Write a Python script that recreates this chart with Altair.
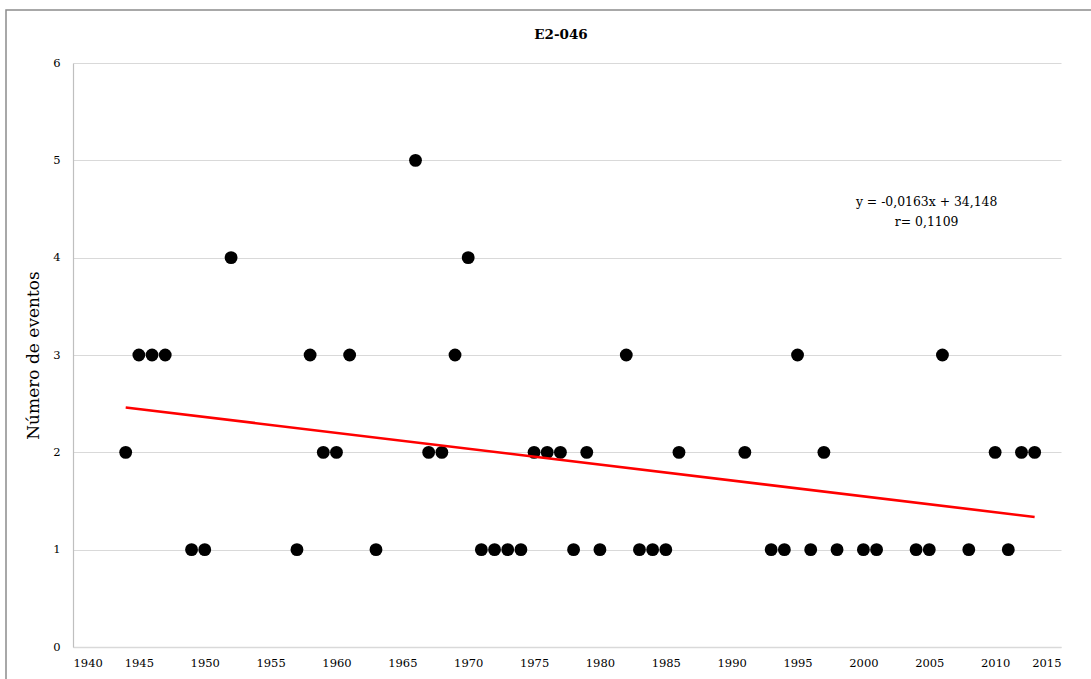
import altair as alt
import pandas as pd

# Annual number of events at station E2-046
years = [1944, 1945, 1946, 1947, 1949, 1950, 1952, 1957, 1958, 1959, 1960, 1961,
         1963, 1966, 1967, 1968, 1969, 1970, 1971, 1972, 1973, 1974, 1975, 1976,
         1977, 1978, 1979, 1980, 1982, 1983, 1984, 1985, 1986, 1991, 1993, 1994,
         1995, 1996, 1997, 1998, 2000, 2001, 2004, 2005, 2006, 2008, 2010, 2011,
         2012, 2013]
events = [2, 3, 3, 3, 1, 1, 4, 1, 3, 2, 2, 3,
          1, 5, 2, 2, 3, 4, 1, 1, 1, 1, 2, 2,
          2, 1, 2, 1, 3, 1, 1, 1, 2, 2, 1, 1,
          3, 1, 2, 1, 1, 1, 1, 1, 3, 1, 2, 1,
          2, 2]

# Linear trend: y = -0.0163x + 34.148
slope = -0.0163
intercept = 34.148
trend_years = [1944, 2013]

x_ticks = [1940, 1945, 1950, 1955, 1960, 1965, 1970, 1975, 1980, 1985, 1990,
           1995, 2000, 2005, 2010, 2015]
y_ticks = [0, 1, 2, 3, 4, 5, 6]

eq_lines = ["y = -0,0163x  + 34,148", "r= 0,1109"]
eq_year = [2004.8, 2004.8]
eq_y = [4.57, 4.37]

FONT = "DejaVu Serif"

df = pd.DataFrame({"year": years, "events": events})
trend = pd.DataFrame({"year": trend_years,
                      "fit": [slope * y + intercept for y in trend_years]})
eq = pd.DataFrame({"year": eq_year, "y": eq_y, "label": eq_lines})

W, H = 988, 584

x_scale = alt.Scale(domain=[1940, 2015], nice=False, zero=False)
y_scale = alt.Scale(domain=[0, 6], nice=False)

# outer frame of the figure
frame = alt.Chart(pd.DataFrame({"k": [0]})).mark_rect(
    fill=None, stroke="#8c8c8c", strokeWidth=1.5
).encode(
    x=alt.value(-67), x2=alt.value(1100),
    y=alt.value(-53), y2=alt.value(700),
)

points = alt.Chart(df).mark_circle(size=165, color="black", opacity=1).encode(
    x=alt.X("year:Q", scale=x_scale,
            axis=alt.Axis(values=x_ticks, format="d", grid=False, ticks=False,
                          domain=True, domainColor="#d9d9d9", domainWidth=1.5,
                          labelPadding=10, title=None)),
    y=alt.Y("events:Q", scale=y_scale,
            axis=alt.Axis(values=y_ticks, format="d", grid=True,
                          gridColor="#d9d9d9", gridWidth=1.2, ticks=False,
                          domain=True, domainColor="#bfbfbf", domainWidth=1.2,
                          labelPadding=13,
                          title="Número de eventos", titleFontSize=17,
                          titleFontWeight="normal", titlePadding=10)),
)

line = alt.Chart(trend).mark_line(color="#ff0000", strokeWidth=2.6).encode(
    x=alt.X("year:Q", scale=x_scale),
    y=alt.Y("fit:Q", scale=y_scale),
)

text = alt.Chart(eq).mark_text(font=FONT, fontSize=12.4, color="black",
                               align="center", baseline="middle").encode(
    x=alt.X("year:Q", scale=x_scale),
    y=alt.Y("y:Q", scale=y_scale),
    text="label:N",
)

chart = alt.layer(frame, points, line, text).properties(
    width=W, height=H,
    title=alt.TitleParams("E2-046", font=FONT, fontSize=13.5,
                          fontWeight="bold",
                          anchor="middle", dx=-6, offset=-32, color="black"),
    padding={"left": 73, "top": 63, "right": 30, "bottom": 32},
    autosize=alt.AutoSizeParams(type="none"),
).configure_view(stroke=None).configure_axis(
    labelFont=FONT, labelFontSize=11.5, labelColor="black",
    titleFont=FONT, titleColor="black",
)

chart.save("out.html", embed_options={"renderer": "svg", "actions": False})
